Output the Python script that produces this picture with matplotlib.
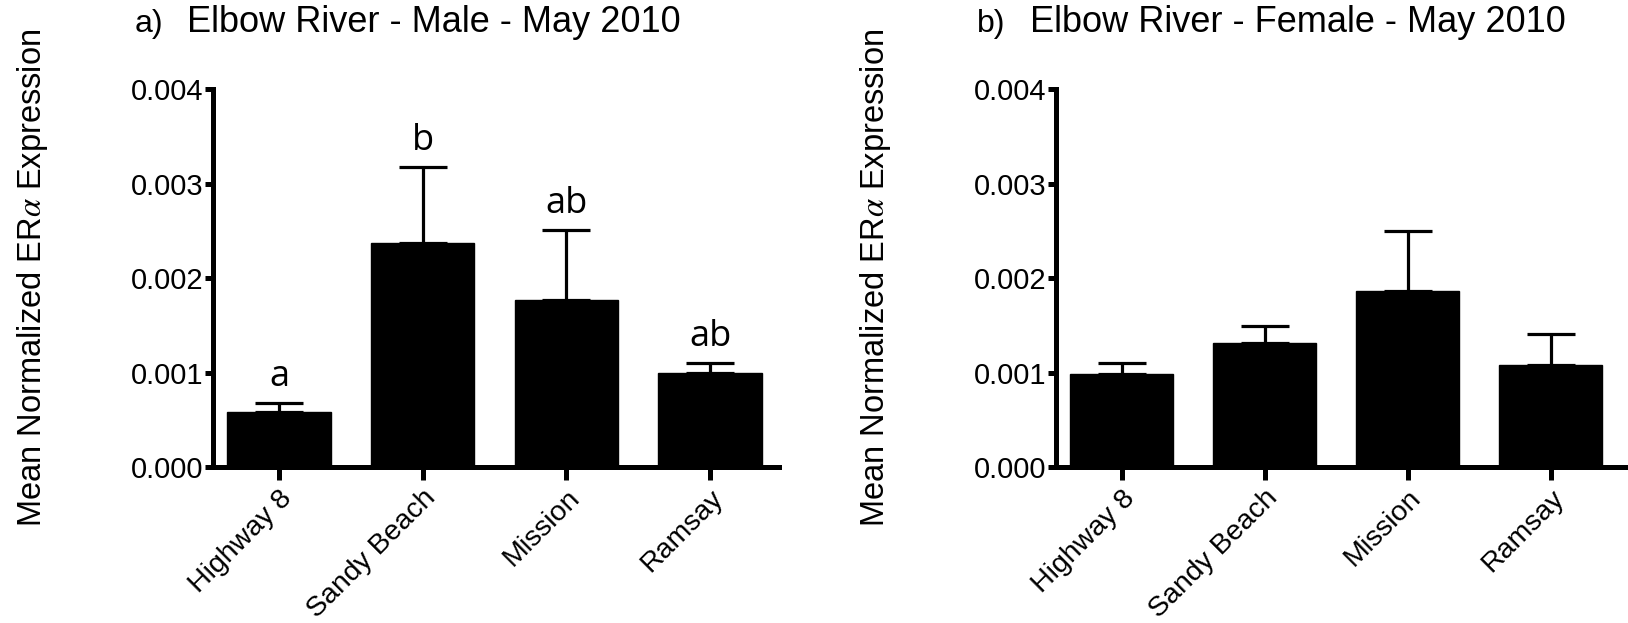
import matplotlib
matplotlib.use("Agg")
import matplotlib.pyplot as plt
from matplotlib import font_manager
from matplotlib.transforms import ScaledTranslation

# site names and ER-alpha expression (mean and upper SEM)
sites = ["Highway 8", "Sandy Beach", "Mission", "Ramsay"]
male_mean = [0.00058, 0.00237, 0.00177, 0.00099]
male_err = [0.00010, 0.00081, 0.00074, 0.00011]
male_letters = ["a", "b", "ab", "ab"]
female_mean = [0.00098, 0.00131, 0.00186, 0.00108]
female_err = [0.00012, 0.00018, 0.00064, 0.00033]
y_ticks = [0.000, 0.001, 0.002, 0.003, 0.004]

installed = {f.name for f in font_manager.fontManager.ttflist}
narrow = "Liberation Sans Narrow" if "Liberation Sans Narrow" in installed else "Liberation Sans"
plt.rcParams["font.family"] = ["Liberation Sans", "DejaVu Sans"]
plt.rcParams["mathtext.fontset"] = "stix"

fig = plt.figure(figsize=(16.28, 6.23), dpi=100)
ax_a = fig.add_axes([0.1308, 0.2504, 0.3477, 0.6067])
ax_b = fig.add_axes([0.6486, 0.2504, 0.3514, 0.6067])
shift = ScaledTranslation(-0.11, -0.04, fig.dpi_scale_trans)


def draw_panel(ax, means, errs, tag, title, xmax, letters=None):
    x = range(len(sites))
    ax.bar(x, means, width=0.72, color="black", edgecolor="black")
    ax.errorbar(x, means, yerr=[[0] * len(errs), errs], fmt="none",
                ecolor="black", elinewidth=2.3, capsize=17, capthick=2.3)
    ax.set_xlim(-0.46, xmax)
    ax.set_ylim(0, 0.004)
    ax.set_yticks(y_ticks)
    ax.set_yticklabels([f"{v:.3f}" for v in y_ticks], fontfamily=narrow, fontsize=21)
    ax.set_xticks(list(x))
    ax.set_xticklabels(sites, rotation=45, ha="right", va="top", rotation_mode="anchor",
                       fontsize=20.5)
    for lab in ax.get_xticklabels():
        lab.set_transform(lab.get_transform() + shift)
    for side in ["top", "right"]:
        ax.spines[side].set_visible(False)
    for side in ["left", "bottom"]:
        ax.spines[side].set_linewidth(3.6)
    ax.tick_params(axis="y", length=6, width=3.6, pad=1)
    ax.tick_params(axis="x", length=9, width=3.6, pad=4)
    ax.set_ylabel(r"Mean Normalized ER$\alpha$ Expression", fontsize=23.5, labelpad=58)
    if letters:
        for i, lab in enumerate(letters):
            ax.annotate(lab, (i, means[i] + errs[i]), xytext=(0, 12),
                        textcoords="offset points", ha="center", va="baseline",
                        fontsize=26, fontfamily="Open Sans")
    ax.text(-0.138, 1.15, tag, transform=ax.transAxes, fontsize=23,
            fontfamily=narrow, va="baseline")
    ax.text(-0.045, 1.15, title, transform=ax.transAxes, fontsize=26,
            fontfamily=narrow, va="baseline")


draw_panel(ax_a, male_mean, male_err, "a)", "Elbow River - Male - May 2010", 3.48, male_letters)
draw_panel(ax_b, female_mean, female_err, "b)", "Elbow River - Female - May 2010", 3.54)

fig.savefig("out.png", dpi=100)
